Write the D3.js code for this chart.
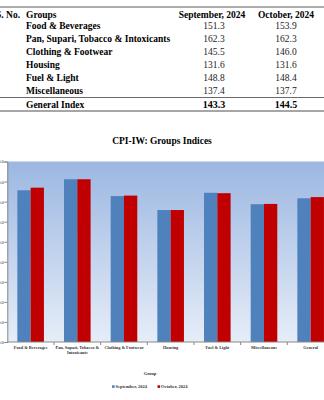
<!DOCTYPE html>
<html><head><meta charset="utf-8">
<script src="https://cdn.jsdelivr.net/npm/d3@7"></script>
<style>body{margin:0;background:#fff;overflow:hidden}svg{display:block}text{font-family:"Liberation Serif","Times New Roman",serif}</style>
</head><body><svg id="c" width="324" height="400"></svg>
<script>
const groups = ["Food & Beverages","Pan, Supari, Tobacco & Intoxicants","Clothing & Footwear","Housing","Fuel & Light","Miscellaneous"];
const sepValues = [151.3,162.3,145.5,131.6,148.8,137.4];
const octValues = [153.9,162.3,146.0,131.6,148.4,137.7];
const generalIndex = [143.3,144.5];
const seriesNames = ["September, 2024","October, 2024"];
const chartCategories = ["Food & Beverages","Pan, Supari, Tobacco & Intoxicants","Clothing & Footwear","Housing","Fuel & Light","Miscellaneous","General"];
const chartSep = [151.3,162.3,145.5,131.6,148.8,137.4,143.3];
const chartOct = [153.9,162.3,146.0,131.6,148.4,137.7,144.5];
const yTicks = [0,20,40,60,80,100,120,140,160,180];

(function(){
const svg = d3.select("#c");
// ---- table ----
const tbl = svg.append("g");
tbl.append("line").attr("x1",0).attr("x2",324).attr("y1",7).attr("y2",7).attr("stroke","#333").attr("stroke-width",0.8);
const hy = 17.5;
tbl.append("text").attr("x",-4).attr("y",hy).attr("font-size",9.5).attr("font-weight","bold").text("S. No.");
tbl.append("text").attr("x",26).attr("y",hy).attr("font-size",9.5).attr("font-weight","bold").text("Groups");
tbl.append("text").attr("x",212).attr("y",hy).attr("font-size",9.5).attr("font-weight","bold").attr("text-anchor","middle").text(seriesNames[0]);
tbl.append("text").attr("x",286).attr("y",hy).attr("font-size",9.5).attr("font-weight","bold").attr("text-anchor","middle").text(seriesNames[1]);
const rowY = d3.scaleLinear().domain([0,5]).range([29,93.5]);
groups.forEach((g,i)=>{
  const yy = rowY(i);
  tbl.append("text").attr("x",26).attr("y",yy).attr("font-size",9.5).attr("font-weight","bold").text(g);
  tbl.append("text").attr("x",214).attr("y",yy).attr("font-size",9.5).attr("text-anchor","middle").attr("fill","#222").text(sepValues[i].toFixed(1));
  tbl.append("text").attr("x",286).attr("y",yy).attr("font-size",9.5).attr("text-anchor","middle").attr("fill","#222").text(octValues[i].toFixed(1));
});
tbl.append("line").attr("x1",0).attr("x2",324).attr("y1",97.5).attr("y2",97.5).attr("stroke","#444").attr("stroke-width",0.8);
tbl.append("text").attr("x",26).attr("y",107.5).attr("font-size",9.5).attr("font-weight","bold").text("General Index");
tbl.append("text").attr("x",214).attr("y",107.5).attr("font-size",10).attr("font-weight","bold").attr("text-anchor","middle").text(generalIndex[0].toFixed(1));
tbl.append("text").attr("x",286).attr("y",107.5).attr("font-size",10).attr("font-weight","bold").attr("text-anchor","middle").text(generalIndex[1].toFixed(1));
tbl.append("line").attr("x1",0).attr("x2",324).attr("y1",111).attr("y2",111).attr("stroke","#888").attr("stroke-width",1.6);

// ---- chart ----
svg.append("text").attr("x",162).attr("y",144).attr("font-size",9.5).attr("font-weight","bold").attr("text-anchor","middle").text("CPI-IW: Groups Indices");

const pL = 7.3, pT = 161.5, pB = 342, bandW = 46.67;
const pR = pL + bandW*chartCategories.length;
const x = d3.scaleBand().domain(chartCategories).range([pL, pR]).paddingInner(0).paddingOuter(0);
const y = d3.scaleLinear().domain([0,180]).range([pB, pT]);
const defs = svg.append("defs");
const grad = defs.append("linearGradient").attr("id","bg").attr("x1",0).attr("x2",0).attr("y1",0).attr("y2",1);
grad.append("stop").attr("offset","0%").attr("stop-color","#9cb7e1");
grad.append("stop").attr("offset","100%").attr("stop-color","#e6edf8");
svg.append("rect").attr("x",pL).attr("y",pT).attr("width",pR-pL).attr("height",pB-pT).attr("fill","url(#bg)");

const bw = 13.3, off = (x.bandwidth() - 2*bw)/2;
const bars = svg.append("g");
chartCategories.forEach((c,i)=>{
  bars.append("rect").attr("x",x(c)+off).attr("y",y(chartSep[i])).attr("width",bw).attr("height",y(0)-y(chartSep[i])).attr("fill","#4f81bd");
  bars.append("rect").attr("x",x(c)+off+bw).attr("y",y(chartOct[i])).attr("width",bw).attr("height",y(0)-y(chartOct[i])).attr("fill","#c00000");
});

// y axis
const ya = svg.append("g").attr("transform",`translate(${pL},0)`)
  .call(d3.axisLeft(y).tickValues(yTicks).tickSize(3).tickFormat(d=>d.toFixed(1)));
ya.select(".domain").attr("stroke","#888");
ya.selectAll(".tick line").attr("stroke","#888");
ya.selectAll(".tick text").attr("font-size",4.5).attr("font-family","Liberation Serif").attr("fill","#333").attr("x",-3.5);

// x axis
const xa = svg.append("g").attr("transform",`translate(0,${pB})`);
xa.append("line").attr("x1",pL).attr("x2",pR).attr("y1",0).attr("y2",0).attr("stroke","#888");
chartCategories.forEach((c)=>{
  xa.append("line").attr("x1",x(c)+bandW).attr("x2",x(c)+bandW).attr("y1",0).attr("y2",3).attr("stroke","#888");
});
const xlabels = [["Food & Beverages"],["Pan, Supari, Tobacco &","Intoxicants"],["Clothing & Footwear"],["Housing"],["Fuel & Light"],["Miscellaneous"],["General"]];
chartCategories.forEach((c,i)=>{
  const t = xa.append("text").attr("x",x(c)+bandW/2).attr("y",7).attr("font-size",4.3).attr("font-weight","bold").attr("fill","#333").attr("text-anchor","middle");
  xlabels[i].forEach((l,j)=>t.append("tspan").attr("x",x(c)+bandW/2).attr("dy",j?5.2:0).text(l));
});
svg.append("text").attr("x",150).attr("y",375).attr("font-size",4.5).attr("font-weight","bold").attr("fill","#333").attr("text-anchor","middle").text("Group");

// legend
const leg = svg.append("g");
[[112,"#4f81bd",seriesNames[0]],[157.5,"#c00000",seriesNames[1]]].forEach(([lx,col,name])=>{
  leg.append("rect").attr("x",lx).attr("y",385.3).attr("width",2.6).attr("height",2.6).attr("fill",col);
  leg.append("text").attr("x",lx+3.4).attr("y",388.3).attr("font-size",4.5).attr("font-weight","bold").attr("fill","#333").text(name);
});
})();
</script></body></html>
